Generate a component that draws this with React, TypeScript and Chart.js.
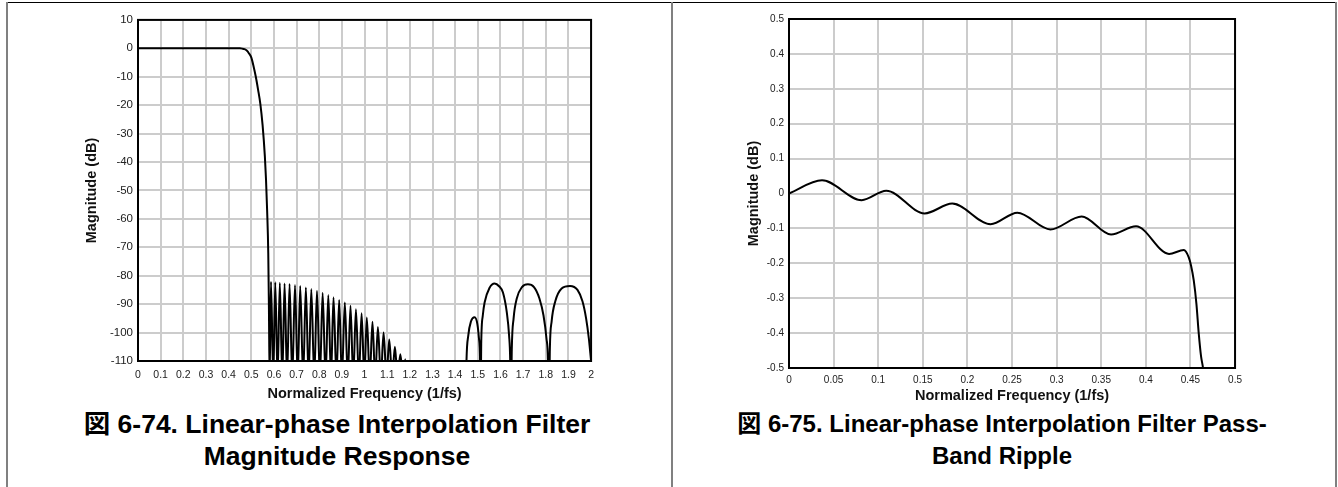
import React, { useEffect, useRef } from 'react';
import { Chart, registerables } from 'chart.js';

Chart.register(...registerables);

const FONT = '"Liberation Sans", Arial, "Noto Sans CJK JP", sans-serif';
Chart.defaults.font.family = FONT;

// ---------- Figure 6-74: magnitude response ----------
const passbandFreq = [0, 0.1, 0.2, 0.3, 0.4, 0.45, 0.46, 0.47, 0.48, 0.49, 0.5, 0.51, 0.52, 0.53, 0.54, 0.55, 0.56, 0.565, 0.57, 0.575, 0.578];
const passbandDb = [0, 0, 0, 0, 0, 0, -0.1, -0.3, -0.8, -1.8, -3.2, -6.3, -10, -14.5, -19.5, -27, -38, -46, -57, -72, -92];

const sidelobePeakFreq = [0.587, 0.606, 0.626, 0.647, 0.669, 0.693, 0.716, 0.741, 0.765, 0.79, 0.815, 0.84, 0.863, 0.888, 0.913, 0.938, 0.962, 0.987, 1.01, 1.035, 1.059, 1.084, 1.109, 1.134, 1.158, 1.18];
const sidelobePeakDb = [-82.1, -82.3, -82.5, -82.7, -82.9, -83.3, -83.6, -84.1, -84.7, -85.3, -86, -86.8, -87.6, -88.5, -89.4, -90.6, -91.8, -93.2, -94.7, -96.2, -98, -100, -102.4, -105, -107.6, -109.4];
const sidelobeNullFreq = [0.581, 0.597, 0.616, 0.637, 0.658, 0.681, 0.705, 0.729, 0.753, 0.778, 0.803, 0.828, 0.852, 0.876, 0.9, 0.926, 0.95, 0.975, 0.999, 1.023, 1.047, 1.072, 1.097, 1.122, 1.146, 1.17, 1.19];
const sidelobeNullDb = [-116, -116, -116, -116, -116, -116, -116, -116, -116, -116, -116, -116, -116, -116, -116, -116, -116, -116, -116, -116, -116, -116, -116, -116, -116, -116, -130];

const imageLobeFreq = [1.3, 1.446, 1.45, 1.458, 1.47, 1.486, 1.498, 1.505, 1.51, 1.512, 1.515, 1.522, 1.53, 1.552, 1.574, 1.595, 1.611, 1.628, 1.638, 1.643, 1.646, 1.65, 1.658, 1.672, 1.695, 1.721, 1.748, 1.772, 1.79, 1.803, 1.81, 1.814, 1.818, 1.826, 1.842, 1.87, 1.907, 1.94, 1.962, 1.978, 1.99, 2.0];
const imageLobeDb = [-130, -130, -110, -101, -96, -94.6, -97, -102, -110, -130, -104, -94, -89.4, -84.2, -82.7, -83.8, -85.9, -92.9, -101, -110, -130, -106, -95, -88, -84, -83, -84, -88, -94, -102, -110, -130, -106, -96, -89, -84.5, -83.6, -85, -89, -95, -102, -110];

const magXTicks = [0, 0.1, 0.2, 0.3, 0.4, 0.5, 0.6, 0.7, 0.8, 0.9, 1, 1.1, 1.2, 1.3, 1.4, 1.5, 1.6, 1.7, 1.8, 1.9, 2];
const magXTickLabels = ['0', '0.1', '0.2', '0.3', '0.4', '0.5', '0.6', '0.7', '0.8', '0.9', '1', '1.1', '1.2', '1.3', '1.4', '1.5', '1.6', '1.7', '1.8', '1.9', '2'];
const magYTicks = [10, 0, -10, -20, -30, -40, -50, -60, -70, -80, -90, -100, -110];
const magYTickLabels = ['10', '0', '-10', '-20', '-30', '-40', '-50', '-60', '-70', '-80', '-90', '-100', '-110'];

// ---------- Figure 6-75: pass-band ripple ----------
const rippleFreq = [0, 0.037, 0.0815, 0.109, 0.152, 0.183, 0.226, 0.256, 0.293, 0.328, 0.361, 0.389, 0.426, 0.4426, 0.4481, 0.4507, 0.4537, 0.4567, 0.4593, 0.4619, 0.4641, 0.466];
const rippleDb = [0, 0.038, -0.019, 0.0076, -0.057, -0.029, -0.088, -0.055, -0.103, -0.066, -0.1175, -0.094, -0.173, -0.162, -0.183, -0.207, -0.249, -0.316, -0.401, -0.467, -0.5, -0.55];

const ripXTicks = [0, 0.05, 0.1, 0.15, 0.2, 0.25, 0.3, 0.35, 0.4, 0.45, 0.5];
const ripXTickLabels = ['0', '0.05', '0.1', '0.15', '0.2', '0.25', '0.3', '0.35', '0.4', '0.45', '0.5'];
const ripYTicks = [0.5, 0.4, 0.3, 0.2, 0.1, 0, -0.1, -0.2, -0.3, -0.4, -0.5];
const ripYTickLabels = ['0.5', '0.4', '0.3', '0.2', '0.1', '0', '-0.1', '-0.2', '-0.3', '-0.4', '-0.5'];

const xTitle = 'Normalized Frequency (1/fs)';
const yTitle = 'Magnitude (dB)';
const caption74 = ['図 6-74. Linear-phase Interpolation Filter', 'Magnitude Response'];
const caption75 = ['図 6-75. Linear-phase Interpolation Filter Pass-', 'Band Ripple'];

const GRID = '#cccccc';

function buildMagPoints() {
  const pts: { x: number; y: number }[] = [];
  passbandFreq.forEach((f, i) => pts.push({ x: f, y: passbandDb[i] }));
  sidelobeNullFreq.forEach((f, i) => {
    pts.push({ x: f, y: sidelobeNullDb[i] });
    if (i < sidelobePeakFreq.length) pts.push({ x: sidelobePeakFreq[i], y: sidelobePeakDb[i] });
  });
  imageLobeFreq.forEach((f, i) => pts.push({ x: f, y: imageLobeDb[i] }));
  return pts;
}

const framePlugin = {
  id: 'frame',
  afterDatasetsDraw(chart: any) {
    const { ctx, chartArea: a } = chart;
    ctx.save();
    ctx.strokeStyle = '#000';
    ctx.lineWidth = 2;
    ctx.strokeRect(a.left, a.top, a.right - a.left, a.bottom - a.top);
    ctx.restore();
  },
};

type P = {
  data: { x: number; y: number }[];
  xMin: number; xMax: number; yMin: number; yMax: number;
  xTicks: number[]; xLabels: string[]; yTicks: number[]; yLabels: string[];
  padTop: number; padRight: number; yAxisW: number; xAxisH: number;
  xTickSize: number; yTickSize: number; xTickPad: number; yTickPad: number;
  titleSize: number;
};

function makeConfig(p: P): any {
  return {
    type: 'line',
    data: {
      datasets: [
        {
          data: p.data,
          borderColor: '#000',
          borderWidth: 2,
          pointRadius: 0,
          fill: false,
          cubicInterpolationMode: 'monotone',
        },
      ],
    },
    options: {
      responsive: false,
      animation: false,
      events: [],
      layout: { padding: { top: p.padTop, right: p.padRight, left: 0, bottom: 0 } },
      plugins: { legend: { display: false }, tooltip: { enabled: false } },
      scales: {
        x: {
          type: 'linear',
          min: p.xMin,
          max: p.xMax,
          afterBuildTicks: (s: any) => { s.ticks = p.xTicks.map((v) => ({ value: v })); },
          afterFit: (s: any) => { s.height = p.xAxisH; },
          ticks: {
            autoSkip: false, maxRotation: 0, minRotation: 0, padding: p.xTickPad, color: '#222',
            font: { size: p.xTickSize },
            callback: (_v: any, i: number) => p.xLabels[i],
          },
          grid: { color: GRID, lineWidth: 2, drawTicks: false },
          border: { display: false },
          title: { display: true, text: xTitle, color: '#111', padding: 0, font: { size: p.titleSize, weight: 'bold' } },
        },
        y: {
          type: 'linear',
          min: p.yMin,
          max: p.yMax,
          afterBuildTicks: (s: any) => { s.ticks = p.yTicks.map((v) => ({ value: v })); },
          afterFit: (s: any) => { s.width = p.yAxisW; },
          ticks: {
            autoSkip: false, padding: p.yTickPad, color: '#222',
            font: { size: p.yTickSize },
            callback: (_v: any, i: number) => p.yLabels[i],
          },
          grid: { color: GRID, lineWidth: 2, drawTicks: false },
          border: { display: false },
          title: { display: true, text: yTitle, color: '#111', padding: 0, font: { size: p.titleSize, weight: 'bold' } },
        },
      },
    },
    plugins: [framePlugin],
  };
}

function ChartBox({ left, top, width, height, params }: { left: number; top: number; width: number; height: number; params: P }) {
  const ref = useRef<HTMLCanvasElement>(null);
  useEffect(() => {
    const chart = new Chart(ref.current as HTMLCanvasElement, makeConfig(params));
    return () => chart.destroy();
  }, []);
  return (
    <canvas
      ref={ref}
      width={width}
      height={height}
      style={{ position: 'absolute', left, top, width, height }}
    />
  );
}

function Caption({ left, width, top, size, lines }: { left: number; width: number; top: number; size: number; lines: string[] }) {
  return (
    <div
      style={{
        position: 'absolute', left, top, width, textAlign: 'center',
        fontFamily: FONT, fontWeight: 'bold', fontSize: size, lineHeight: '32px', color: '#000',
      }}
    >
      {lines.map((l, i) => (<div key={i}>{l}</div>))}
    </div>
  );
}

export default function App() {
  const magParams: P = {
    data: buildMagPoints(),
    xMin: 0, xMax: 2, yMin: -110, yMax: 10,
    xTicks: magXTicks, xLabels: magXTickLabels, yTicks: magYTicks, yLabels: magYTickLabels,
    padTop: 10, padRight: 10, yAxisW: 55, xAxisH: 42,
    xTickSize: 10.5, yTickSize: 11.5, xTickPad: 8, yTickPad: 5, titleSize: 14.5,
  };
  const ripParams: P = {
    data: rippleFreq.map((f, i) => ({ x: f, y: rippleDb[i] })),
    xMin: 0, xMax: 0.5, yMin: -0.5, yMax: 0.5,
    xTicks: ripXTicks, xLabels: ripXTickLabels, yTicks: ripYTicks, yLabels: ripYTickLabels,
    padTop: 10, padRight: 10, yAxisW: 44, xAxisH: 37,
    xTickSize: 10, yTickSize: 10, xTickPad: 6, yTickPad: 5, titleSize: 14.5,
  };
  return (
    <div style={{ position: 'fixed', left: 0, top: 0, width: 1338, height: 487, background: '#fff', overflow: 'hidden' }}>
      <div style={{ position: 'absolute', left: 6, top: 2, width: 1331, height: 1, background: '#000' }} />
      <div style={{ position: 'absolute', left: 6, top: 2, width: 2, height: 485, background: '#808080' }} />
      <div style={{ position: 'absolute', left: 671, top: 2, width: 2, height: 485, background: '#808080' }} />
      <div style={{ position: 'absolute', left: 1335, top: 2, width: 2, height: 485, background: '#808080' }} />
      <ChartBox left={83} top={8} width={519} height={395} params={magParams} />
      <ChartBox left={745} top={8} width={503} height={397} params={ripParams} />
      <Caption left={4} width={666} top={408} size={26.5} lines={caption74} />
      <Caption left={672} width={660} top={408} size={24} lines={caption75} />
    </div>
  );
}
